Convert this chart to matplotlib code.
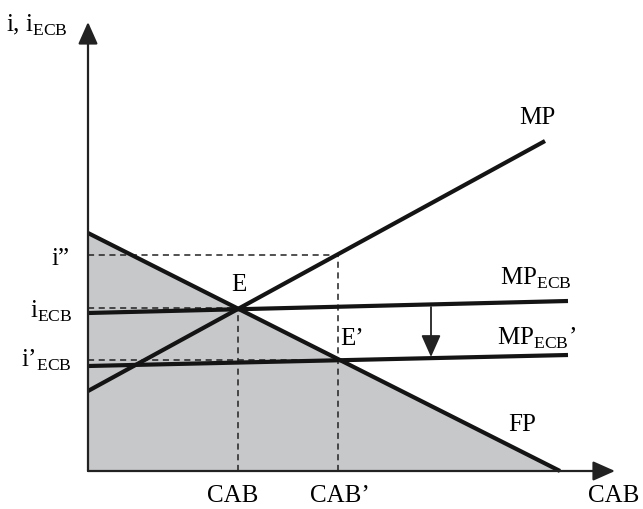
import matplotlib.pyplot as plt

plt.rcParams['font.family'] = ['Liberation Serif', 'DejaVu Serif']
plt.rcParams['mathtext.fontset'] = 'custom'
plt.rcParams['mathtext.rm'] = 'Liberation Serif'

# schematic model (x = CAB, y = interest rate), arbitrary units
fp_x = [0, 472]
fp_y = [238, 0]
mp_x = [0, 457]
mp_y = [80, 330]
mpecb_x = [0, 480]
mpecb_y = [158, 170]
mpecb2_x = [0, 480]
mpecb2_y = [105, 116]

E = (150, 163)
E2 = (250, 111)
i_dd = 216
shift_x = 343

x_max = 527
y_max = 449

fig = plt.figure(figsize=(6.43, 5.09), dpi=100)
ax = fig.add_axes([0, 0, 1, 1])
ax.set_xlim(-88, 555)
ax.set_ylim(-38, 471)
ax.axis('off')

# shaded area under FP
ax.fill_between(fp_x, fp_y, 0, color='#c7c8ca', lw=0)

# dashed guides
dash = dict(color='#222222', lw=1.1, ls=(0, (4, 3)))
ax.plot([0, E2[0]], [i_dd, i_dd], **dash)
ax.plot([E2[0], E2[0]], [0, i_dd], **dash)
ax.plot([0, E[0]], [E[1], E[1]], **dash)
ax.plot([E[0], E[0]], [0, E[1]], **dash)
ax.plot([0, E2[0]], [E2[1], E2[1]], **dash)

# curves
thick = dict(color='#141414', lw=3.0, solid_capstyle='butt')
ax.plot(fp_x, fp_y, **thick)
ax.plot(mp_x, mp_y, **thick)
ax.plot(mpecb_x, mpecb_y, **thick)
ax.plot(mpecb2_x, mpecb2_y, **thick)

# axes with arrows
head = dict(arrowstyle='-|>,head_length=0.9,head_width=0.4', color='#222222',
            lw=1.6, mutation_scale=15, shrinkA=0, shrinkB=0)
ax.annotate('', xy=(0, y_max), xytext=(0, 0), arrowprops=head)
ax.annotate('', xy=(x_max, 0), xytext=(0, 0), arrowprops=head)

# shift arrow
ax.annotate('', xy=(shift_x, 114), xytext=(shift_x, 164),
            arrowprops=dict(head, lw=1.3))

fs = 18
ax.text(-82, 446, r'i, $\mathrm{i}_\mathrm{ECB}$', fontsize=fs, ha='left', va='center')
ax.text(-18, 212, 'i”', fontsize=fs, ha='right', va='center')
ax.text(-16, 160, r'$\mathrm{i}_\mathrm{ECB}$', fontsize=fs, ha='right', va='center')
ax.text(-16, 111, r'$\mathrm{i’}_\mathrm{ECB}$', fontsize=fs, ha='right', va='center')
ax.text(E[0] + 1, 186, 'E', fontsize=fs, ha='center', va='center')
ax.text(E2[0] + 14, 132, 'E’', fontsize=fs, ha='center', va='center')
ax.text(449, 353, 'MP', fontsize=fs, ha='center', va='center')
ax.text(412, 193, r'$\mathrm{MP}_\mathrm{ECB}$', fontsize=fs, ha='left', va='center')
ax.text(409, 133, r'$\mathrm{MP}_\mathrm{ECB}$’', fontsize=fs, ha='left', va='center')
ax.text(434, 46, 'FP', fontsize=fs, ha='center', va='center')
ax.text(E[0] - 5, -25, 'CAB', fontsize=fs, ha='center', va='center')
ax.text(E2[0] + 2, -25, 'CAB’', fontsize=fs, ha='center', va='center')
ax.text(526, -25, 'CAB', fontsize=fs, ha='center', va='center')

fig.savefig('out.png', dpi=100)
